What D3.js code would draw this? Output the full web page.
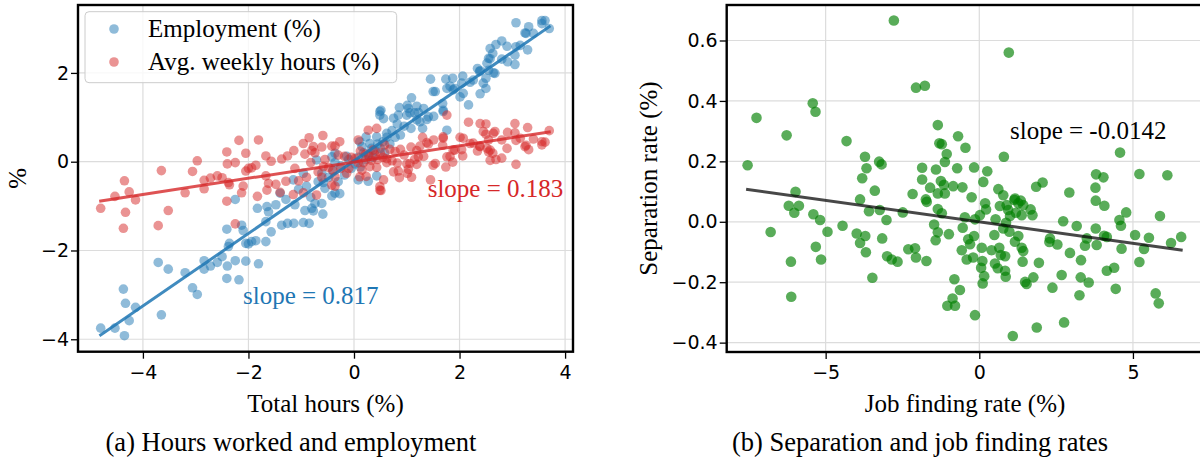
<!DOCTYPE html>
<html>
<head>
<meta charset="utf-8">
<script src="https://cdn.jsdelivr.net/npm/d3@7"></script>
<style>
  body { margin: 0; background: #fff; }
  svg { display: block; }
</style>
</head>
<body>
<svg id="fig" width="1200" height="458"></svg>
<script>
// ---- Panel (a): total hours vs. employment and average weekly hours (%) ----
const totalHours = [
  -4.80,-4.53,-4.35,-4.37,-4.33,-4.26,-4.14,-3.65,-3.71,-3.52,
  -3.20,-3.06,-2.97,-2.84,-2.84,-2.72,-2.59,-2.50,-2.40,-2.41,
  -2.25,-2.18,-2.05,-1.81,-2.41,-2.36,-2.38,-2.25,-2.13,-2.10,
  -2.05,-2.00,-1.94,-1.86,-1.67,-1.57,-1.67,-1.62,-1.83,-1.65,
  -1.48,-1.37,-1.26,-1.14,-1.29,-1.12,-1.40,-0.85,-0.93,-0.80,
  -0.74,-0.59,-0.61,-0.42,-0.36, 3.62, 3.56, 3.07, 3.70, 3.31,
   3.26, 3.40, 3.29, 3.07, 3.05, 2.69, 2.58, 2.63, 2.55, 2.91,
   2.52, 2.34, 2.38, 2.67, 2.50, 2.26, 2.50, 1.74, 1.87, 2.06,
   2.04, 1.82, 1.91, 2.07, 2.01, 2.17, 1.50, 1.68, 1.69, 1.09,
   1.19, 1.03, 0.86, 0.84, 0.51, 0.49, 0.75, 1.41, 1.76, 1.19,
   0.23, 0.43, 0.62, 0.15, 0.30,-0.36,-0.42,-0.71,-0.61,-0.96,
  -1.15,-1.05,-0.90,-0.82,-0.68,-0.55,-0.48,-0.40,-0.30,-0.25,
  -0.18,-0.10,-0.05, 0.02, 0.08, 0.12, 0.18, 0.22, 0.28, 0.33,
   0.36, 0.40, 0.45, 0.50, 0.55, 0.58, 0.62, 0.68, 0.72, 0.78,
   0.82, 0.88, 0.95, 1.00, 1.08, 1.15, 1.25, 1.32, 1.38, 0.56,
   0.49, 1.01, 2.39, 2.45, 2.64, 2.55, 2.80, 2.58, 2.80, 2.39,
   2.20, 1.69, 1.51, 1.88, 1.76, 1.54, 1.45, 3.15, 3.24, 3.05,
   3.56, 1.30, 2.90, 0.27, 0.43, 0.08,-0.27,-0.77,-0.96, 0.11,
  -0.14,-0.36,-0.58, 1.06, 1.22
];
const employment = [
  -3.75,-3.75,-3.92,-2.87,-3.19,-3.58,-3.28,-3.45,-2.27,-2.42,
  -2.50,-2.84,-2.99,-2.23,-2.42,-2.35,-2.27,-2.14,-2.35,-2.63,
  -2.23,-2.66,-2.24,-2.30,-1.52,-1.84,-1.91,-0.85,-1.43,-1.55,
  -1.84,-1.85,-1.80,-1.78,-1.80,-1.58,-1.35,-1.13,-1.05,-1.01,
  -0.97,-1.43,-1.39,-1.39,-0.85,-0.97,-0.71,-1.39,-1.10,-1.05,
  -0.94,-1.18,-0.94,-0.77,-0.71, 3.18, 3.18, 3.13, 3.00, 3.04,
   2.89, 2.89, 2.52, 2.59, 2.40, 2.64, 2.55, 2.44, 2.33, 2.25,
   2.22, 2.10, 2.03, 1.99, 1.88, 1.84, 1.65, 1.86, 1.88, 1.93,
   1.77, 1.70, 1.65, 1.54, 1.46, 1.28, 1.58, 1.31, 1.16, 1.44,
   1.25, 1.20, 1.22, 1.05, 1.16, 1.05, 0.98, 1.01, 0.71, 0.94,
   0.56, 0.56, 0.64, 0.34, 0.41, 0.19, 0.11, 0.04,-0.26,-0.26,
  -0.41,-0.62,-0.55,-0.80,-0.45,-0.60,-0.35,-0.20,-0.45,-0.10,
  -0.30, 0.05,-0.15,-0.05, 0.10,-0.12, 0.20, 0.05, 0.15, 0.30,
   0.10, 0.25, 0.40, 0.30, 0.45, 0.20, 0.55, 0.40, 0.70, 0.55,
   0.85, 0.60, 0.80, 1.05, 0.75, 1.10, 0.90, 1.20, 0.95, 0.97,
   1.13, 1.27, 1.53, 1.77, 2.00, 2.06, 2.31, 2.32, 2.72, 2.05,
   1.79, 1.13, 1.02, 1.62, 1.65, 1.58, 1.86, 2.62, 2.90, 2.19,
   3.11, 0.75, 2.60,-0.44,-0.32,-0.41,-0.72,-1.11,-1.37, 0.45,
   0.12,-0.02,-0.47, 1.10, 1.11
];
const avgHours = [
  -1.05,-0.78,-0.43,-1.50,-1.14,-0.68,-0.86,-0.20,-1.44,-1.10,
  -0.70,-0.22, 0.02,-0.61,-0.42,-0.37,-0.32,-0.36,-0.05, 0.22,
  -0.02, 0.48, 0.19, 0.49,-0.89,-0.52,-0.47,-1.40,-0.70,-0.55,
  -0.21,-0.15,-0.14,-0.08, 0.13, 0.01,-0.32,-0.49,-0.78,-0.64,
  -0.51, 0.06, 0.13, 0.25,-0.44,-0.15,-0.69, 0.54, 0.17, 0.25,
   0.20, 0.59, 0.33, 0.35, 0.35, 0.44, 0.38,-0.06, 0.70, 0.27,
   0.37, 0.51, 0.77, 0.48, 0.65, 0.05, 0.03, 0.19, 0.22, 0.66,
   0.30, 0.24, 0.35, 0.68, 0.62, 0.42, 0.85,-0.12,-0.01, 0.13,
   0.27, 0.12, 0.26, 0.53, 0.55, 0.89,-0.08, 0.37, 0.53,-0.35,
  -0.06,-0.17,-0.36,-0.21,-0.65,-0.56,-0.23, 0.40, 1.05, 0.25,
  -0.33,-0.13,-0.02,-0.19,-0.11,-0.55,-0.53,-0.75,-0.35,-0.70,
  -0.74,-0.43,-0.35,-0.02,-0.23, 0.05,-0.13,-0.20, 0.15,-0.15,
   0.12,-0.15, 0.10, 0.07,-0.02, 0.24,-0.02, 0.17, 0.13, 0.03,
   0.26, 0.15, 0.05, 0.20, 0.10, 0.38, 0.07, 0.28, 0.02, 0.23,
  -0.03, 0.28, 0.15,-0.05, 0.33, 0.05, 0.35, 0.12, 0.43,-0.41,
  -0.64,-0.26, 0.86, 0.68, 0.64, 0.49, 0.49, 0.26, 0.08, 0.34,
   0.41, 0.56, 0.49, 0.26, 0.11,-0.04,-0.41, 0.53, 0.34, 0.86,
   0.45, 0.55, 0.30, 0.71, 0.75, 0.49, 0.45, 0.34, 0.41,-0.34,
  -0.26,-0.34,-0.11,-0.04, 0.11
];

// ---- Panel (b): job finding rate vs. separation rate (%) ----
const jobFinding = [
  -2.78,-2.06,-1.77,-5.42,-5.33,-7.25,-6.27,-4.32,-7.54,-3.72,
  -3.67,-3.26,-3.18,-3.81,-3.40,-5.98,-3.88,-2.17,-1.86,-1.86,
  -1.41,-1.60,-1.35,-1.30,-1.74,-1.35,-6.20,-5.87,-6.02,-5.40,
  -5.18,-6.79,-4.94,-4.45,-5.32,-5.15,-6.13,-6.12,-3.59,-3.24,
  -3.02,-2.49,-1.71,-1.35,-3.99,-3.71,-3.88,-3.16,-3.69,-3.48,
  -3.00,-2.85,-2.66,-2.31,-2.09,-2.06,-1.72,-1.47,-1.35,-1.42,
   0.96,-0.69,-1.22,-0.45,-1.06, 0.80, 4.58,-1.12,-0.72,-0.17,
   0.26,-1.25,-1.15,-0.85,-0.55, 0.13, 0.62, 1.85, 2.06, 2.93,
   3.80, 4.04, 3.78, 5.21, 6.12,-1.12,-0.25, 0.78, 1.16, 3.79,
   4.07,-1.22,-0.99,-0.54,-0.47,-0.14, 0.02, 0.19, 0.22, 0.53,
   0.67, 0.78, 0.49, 0.89, 0.94, 1.00, 1.14, 1.27, 1.19, 1.38,
   1.35, 1.43, 1.67, 1.73, 0.87, 0.98, 1.27, 1.16,-0.36,-0.30,
  -0.17,-0.57,-0.41,-0.20, 0.08, 0.10, 0.06, 0.16, 0.11, 0.40,
   0.65, 0.70, 0.84, 0.51, 0.60, 0.84, 0.86, 1.38, 1.43, 1.41,
   1.94, 1.49, 1.54, 1.76, 2.38, 2.68, 3.26, 3.30, 3.56, 3.31,
   2.95, 2.73, 3.17, 2.30, 2.28, 2.54, 3.44, 3.82, 3.50, 3.79,
   4.06, 4.15, 4.56, 4.61, 4.78, 5.07, 5.52, 5.36, 5.21, 4.63,
   4.39, 4.15, 4.44, 5.88, 6.24, 6.57, 5.74, 5.84,-0.81,-0.63,
  -0.87,-1.04,-0.79,-0.14, 1.09, 1.87, 2.76
];
const separation = [
   0.666, 0.444, 0.450, 0.392, 0.364, 0.344, 0.286, 0.267, 0.187, 0.215,
   0.177, 0.199, 0.190, 0.144, 0.103, 0.099, 0.074, 0.092, 0.179, 0.140,
   0.173, 0.113, 0.320, 0.260, 0.074, 0.094, 0.053, 0.053, 0.030, 0.025,
   0.006,-0.034,-0.033,-0.013,-0.083,-0.125,-0.132,-0.248, 0.035, 0.039,
   0.006, 0.031, 0.066, 0.042,-0.039,-0.047,-0.070,-0.055,-0.101,-0.185,
  -0.114,-0.125,-0.132,-0.091,-0.088,-0.118,-0.130,-0.009,-0.035,-0.061,
   0.560, 0.283, 0.257, 0.245, 0.224, 0.215, 0.229, 0.198, 0.177, 0.180,
   0.167, 0.135, 0.122, 0.118, 0.114, 0.132, 0.108, 0.116, 0.130, 0.097,
   0.157, 0.147, 0.113, 0.158, 0.154, 0.094, 0.081, 0.088, 0.077, 0.070,
   0.053, 0.028,-0.041,-0.020, 0.015, 0.008, 0.022, 0.061, 0.041, 0.008,
   0.052,-0.022,-0.044, 0.055, 0.039, 0.019, 0.072, 0.061, 0.030, 0.022,
   0.070, 0.055, 0.041, 0.022,-0.003,-0.033,-0.047,-0.066,-0.058,-0.074,
  -0.047,-0.094,-0.125,-0.118,-0.086,-0.130,-0.152,-0.180,-0.204,-0.094,
  -0.086,-0.110,-0.114,-0.138,-0.154,-0.162,-0.182,-0.086,-0.097,-0.132,
  -0.136,-0.199,-0.206,-0.184,-0.218,-0.176,-0.243,-0.184,-0.201,-0.127,
  -0.103, 0.002,-0.014,-0.055,-0.067,-0.075,-0.079,-0.077,-0.055,-0.022,
  -0.046,-0.050, 0.006,-0.013, 0.031,-0.044,-0.053,-0.090,-0.133,-0.089,
  -0.152,-0.162,-0.222, 0.019,-0.070,-0.050,-0.237,-0.270,-0.190,-0.226,
  -0.254,-0.278,-0.278,-0.309,-0.378,-0.350,-0.333
];

// Fitted OLS lines: slope and intercept of each regression
const fitEmployment = { slope: 0.817, intercept: 0.018 };
const fitAvgHours   = { slope: 0.183, intercept: -0.007 };
const fitSeparation = { slope: -0.0142, intercept: 0.0 };

// Tick values
const xTicksA = [-4, -2, 0, 2, 4];
const yTicksA = [-4, -2, 0, 2];
const xTicksB = [-5, 0, 5];
const yTicksB = [-0.4, -0.2, 0.0, 0.2, 0.4, 0.6];

const legendLabels = ["Employment (%)", "Avg. weekly hours (%)"];

// ---- styles ----
const SERIF = "'Liberation Serif', 'Times New Roman', serif";
const SANS = "'DejaVu Sans', sans-serif";
const BLUE = "#1f77b4", RED = "#d62728", GREEN = "green";

const svg = d3.select("#fig");
svg.append("rect").attr("width", 1200).attr("height", 458).attr("fill", "#fff");

// scales
const xA = d3.scaleLinear().domain([-5.23, 4.15]).range([78, 573]);
const yA = d3.scaleLinear().domain([-4.28, 3.53]).range([351.7, 5]);
const xB = d3.scaleLinear().domain([-8.22, 7.28]).range([726.7, 1203]);
const yB = d3.scaleLinear().domain([-0.431, 0.7175]).range([352, 5]);

function drawGridAndAxes(x, y, xTicks, yTicks, fmtX, fmtY) {
  const [l, r] = x.range();
  const [b, t] = y.range();
  const g = svg.append("g");
  g.append("g").selectAll("line").data(xTicks).join("line")
    .attr("x1", d => x(d)).attr("x2", d => x(d)).attr("y1", t).attr("y2", b)
    .attr("stroke", "#dcdcdc").attr("stroke-width", 1.2);
  g.append("g").selectAll("line").data(yTicks).join("line")
    .attr("y1", d => y(d)).attr("y2", d => y(d)).attr("x1", l).attr("x2", r)
    .attr("stroke", "#dcdcdc").attr("stroke-width", 1.2);

  const ax = g.append("g").attr("transform", `translate(0,${b})`)
    .call(d3.axisBottom(x).tickValues(xTicks).tickFormat(fmtX).tickSize(7).tickPadding(7));
  const ay = g.append("g").attr("transform", `translate(${l},0)`)
    .call(d3.axisLeft(y).tickValues(yTicks).tickFormat(fmtY).tickSize(7).tickPadding(2));
  [ax, ay].forEach(a => {
    a.select(".domain").remove();
    a.selectAll(".tick line").attr("stroke", "#000").attr("stroke-width", 1.3);
    a.selectAll(".tick text").attr("font-family", SANS).attr("font-size", 19).attr("fill", "#000");
  });
}

function drawFrame(x, y) {
  const [l, r] = x.range();
  const [b, t] = y.range();
  svg.append("rect").attr("x", l).attr("y", t).attr("width", r - l).attr("height", b - t)
    .attr("fill", "none").attr("stroke", "#000").attr("stroke-width", 2.4);
}

function fitLine(x, y, xs, fit) {
  const [x0, x1] = d3.extent(xs);
  return d3.line().x(d => x(d)).y(d => y(fit.intercept + fit.slope * d))([x0, x1]);
}

// ===== Panel (a) =====
drawGridAndAxes(xA, yA, xTicksA, yTicksA, d3.format("d"), d3.format("d"));

const gA = svg.append("g");
gA.append("g").selectAll("circle").data(d3.range(totalHours.length)).join("circle")
  .attr("cx", i => xA(totalHours[i])).attr("cy", i => yA(employment[i]))
  .attr("r", 4.8).attr("fill", BLUE).attr("fill-opacity", 0.5);
gA.append("g").selectAll("circle").data(d3.range(totalHours.length)).join("circle")
  .attr("cx", i => xA(totalHours[i])).attr("cy", i => yA(avgHours[i]))
  .attr("r", 4.8).attr("fill", RED).attr("fill-opacity", 0.5);

gA.append("path").attr("d", fitLine(xA, yA, totalHours, fitEmployment))
  .attr("stroke", BLUE).attr("stroke-opacity", 0.85).attr("stroke-width", 3)
  .attr("stroke-linecap", "square").attr("fill", "none");
gA.append("path").attr("d", fitLine(xA, yA, totalHours, fitAvgHours))
  .attr("stroke", RED).attr("stroke-opacity", 0.8).attr("stroke-width", 3)
  .attr("stroke-linecap", "square").attr("fill", "none");

drawFrame(xA, yA);

// slope annotations
svg.append("text").attr("x", 427.7).attr("y", 197)
  .attr("font-family", SERIF).attr("font-size", 25).attr("fill", RED)
  .text(`slope = ${fitAvgHours.slope}`);
svg.append("text").attr("x", 243).attr("y", 304)
  .attr("font-family", SERIF).attr("font-size", 25).attr("fill", BLUE)
  .text(`slope = ${fitEmployment.slope}`);

// legend
const lg = svg.append("g");
lg.append("rect").attr("x", 85).attr("y", 11.7).attr("width", 311.7).attr("height", 71)
  .attr("rx", 4).attr("fill", "#fff").attr("fill-opacity", 0.8)
  .attr("stroke", "#cccccc").attr("stroke-width", 1);
[BLUE, RED].forEach((c, i) => {
  lg.append("circle").attr("cx", 114).attr("cy", 29 + i * 33).attr("r", 4.8)
    .attr("fill", c).attr("fill-opacity", 0.5);
  lg.append("text").attr("x", 148).attr("y", 37 + i * 33)
    .attr("font-family", SERIF).attr("font-size", 25).attr("fill", "#000")
    .text(legendLabels[i]);
});

// axis labels and caption
svg.append("text").attr("transform", "translate(26,178.4) rotate(-90)")
  .attr("text-anchor", "middle").attr("font-family", SERIF).attr("font-size", 25).text("%");
svg.append("text").attr("x", 325.5).attr("y", 412).attr("text-anchor", "middle")
  .attr("font-family", SERIF).attr("font-size", 25).text("Total hours (%)");
svg.append("text").attr("x", 291).attr("y", 451).attr("text-anchor", "middle")
  .attr("font-family", SERIF).attr("font-size", 26.5).text("(a) Hours worked and employment");

// ===== Panel (b) =====
drawGridAndAxes(xB, yB, xTicksB, yTicksB, d3.format("d"), d3.format(".1f"));

const gB = svg.append("g");
gB.append("g").selectAll("circle").data(d3.range(jobFinding.length)).join("circle")
  .attr("cx", i => xB(jobFinding[i])).attr("cy", i => yB(separation[i]))
  .attr("r", 5.3).attr("fill", GREEN).attr("fill-opacity", 0.65);
gB.append("path").attr("d", fitLine(xB, yB, jobFinding, fitSeparation))
  .attr("stroke", "#000").attr("stroke-opacity", 0.72).attr("stroke-width", 3)
  .attr("stroke-linecap", "square").attr("fill", "none");

drawFrame(xB, yB);

svg.append("text").attr("x", 1010).attr("y", 139)
  .attr("font-family", SERIF).attr("font-size", 25).attr("fill", "#000")
  .text(`slope = ${fitSeparation.slope}`);

svg.append("text").attr("transform", "translate(657,178.5) rotate(-90)")
  .attr("text-anchor", "middle").attr("font-family", SERIF).attr("font-size", 25)
  .text("Separation rate (%)");
svg.append("text").attr("x", 965).attr("y", 412).attr("text-anchor", "middle")
  .attr("font-family", SERIF).attr("font-size", 25).text("Job finding rate (%)");
svg.append("text").attr("x", 920).attr("y", 451).attr("text-anchor", "middle")
  .attr("font-family", SERIF).attr("font-size", 26.5).text("(b) Separation and job finding rates");
</script>
</body>
</html>
